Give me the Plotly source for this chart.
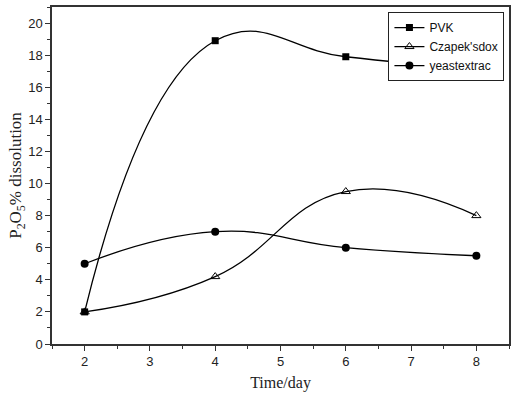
import plotly.graph_objects as go

days = [2, 4, 6, 8]
pvk = [2.0, 18.9, 17.9, 17.1]
czapek = [2.0, 4.2, 9.5, 8.0]
yeast = [5.0, 7.0, 6.0, 5.5]

fig = go.Figure()
common = dict(mode="lines+markers", line=dict(color="black", width=1.3, shape="spline", smoothing=1.3))
fig.add_trace(go.Scatter(x=days, y=pvk, name="PVK",
                         marker=dict(symbol="square", size=7, color="black"), **common))
fig.add_trace(go.Scatter(x=days, y=czapek, name="Czapek'sdox",
                         marker=dict(symbol="triangle-up-open", size=8, color="black", line=dict(width=1)), **common))
fig.add_trace(go.Scatter(x=days, y=yeast, name="yeastextrac",
                         marker=dict(symbol="circle", size=8, color="black"), **common))

axis_common = dict(showline=True, linecolor="#333", linewidth=1.5, mirror=True,
                   ticks="outside", ticklen=5, tickwidth=1.2, tickcolor="#333",
                   showgrid=False, zeroline=False,
                   tickfont=dict(family="Liberation Sans, Arial", size=13, color="#222"))
fig.update_xaxes(range=[1.5, 8.5], tickmode="array", tickvals=[2, 3, 4, 5, 6, 7, 8],
                 minor=dict(ticks="outside", ticklen=3, tickcolor="#333", dtick=0.5, tick0=0.5),
                 title=dict(text="Time/day", font=dict(family="Liberation Serif, Times New Roman", size=16, color="#222"), standoff=8),
                 **axis_common)
fig.update_yaxes(range=[0, 21], tickmode="array", tickvals=list(range(0, 21, 2)),
                 minor=dict(ticks="outside", ticklen=3, tickcolor="#333", dtick=1, tick0=0),
                 title=dict(text="P<sub>2</sub>O<sub>5</sub>% dissolution", font=dict(family="Liberation Serif, Times New Roman", size=17, color="#222"), standoff=2),
                 **axis_common)
fig.update_layout(
    width=516, height=394, margin=dict(l=52, r=6, t=5, b=46),
    paper_bgcolor="white", plot_bgcolor="white",
    showlegend=True,
    legend=dict(x=0.99, y=0.985, xanchor="right", yanchor="top",
                bordercolor="#222", borderwidth=1, bgcolor="white",
                font=dict(family="Liberation Sans, Arial", size=12, color="#111"),
                tracegroupgap=0, itemwidth=30),
)
fig.write_html("out.html")
